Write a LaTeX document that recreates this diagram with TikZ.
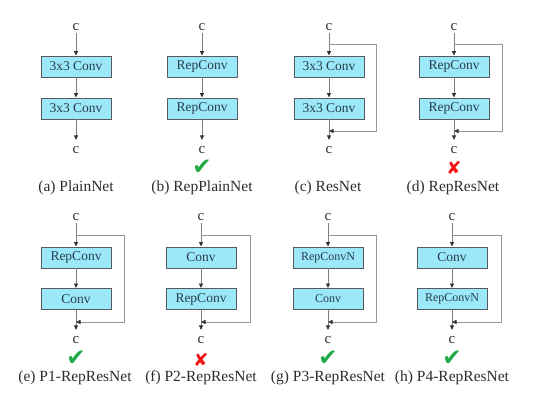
\documentclass[tikz,border=0pt]{standalone}
\usepackage{fontspec}
\setmainfont{Liberation Serif}
\newfontfamily\symfont{DejaVu Sans}
\usetikzlibrary{arrows.meta}

\definecolor{convfill}{RGB}{155,232,251}
\definecolor{convline}{RGB}{90,90,90}
\definecolor{convtext}{RGB}{40,62,74}
\definecolor{wire}{RGB}{128,128,128}
\definecolor{bypasscol}{RGB}{150,150,150}
\definecolor{tipcol}{RGB}{50,50,50}
\definecolor{labtext}{RGB}{45,45,45}
\definecolor{okgreen}{RGB}{30,170,70}
\definecolor{nored}{RGB}{240,20,20}

\begin{document}
\begin{tikzpicture}[x=1pt,y=-1pt,
	conv/.style={draw=convline,fill=convfill,line width=.9pt,minimum width=70pt,minimum height=21pt,inner sep=0pt,text=convtext,font=\fontsize{13.5}{14}\selectfont},
	convn/.style={conv,font=\fontsize{12}{13}\selectfont},
	chan/.style={inner sep=0pt,outer sep=2.5pt,text=labtext,font=\fontsize{15}{15}\selectfont},
	caption/.style={inner sep=0pt,text=labtext,font=\fontsize{15.5}{16}\selectfont},
	flow/.style={draw=wire,line width=.8pt,-{Triangle[length=4.5pt,width=4pt,color=tipcol]}},
	bypass/.style={flow,draw=bypasscol},
	tick/.style={inner sep=0pt,text=okgreen,font=\symfont\fontsize{23}{23}\selectfont},
	cross/.style={inner sep=0pt,text=nored,font=\symfont\fontsize{18}{18}\selectfont}]
	\useasboundingbox (0,0) rectangle (544,404);
	
	% (a) plain
	\node[chan] (a-in) at (76,27) {c};
	\node[conv] (a-1) at (76,66.5) {3x3 Conv};
	\node[conv] (a-2) at (76,108.5) {3x3 Conv};
	\node[chan] (a-out) at (76,150) {c};
	\draw[flow] (a-in) -- (a-1);
	\draw[flow] (a-1) -- (a-2);
	\draw[flow,shorten >=4pt] (a-2) -- (a-out);
	\node[caption] (a-cap) at (76,188) {(a) PlainNet};
	
	% (b)
	\node[chan] (b-in) at (202,27) {c};
	\node[conv] (b-1) at (202,66.5) {RepConv};
	\node[conv] (b-2) at (202,108.5) {RepConv};
	\node[chan] (b-out) at (202,150) {c};
	\draw[flow] (b-in) -- (b-1);
	\draw[flow] (b-1) -- (b-2);
	\draw[flow,shorten >=4pt] (b-2) -- (b-out);
	\node[tick] (b-mark) at (202,167) {✔};
	\node[caption] (b-cap) at (202,188) {(b) RepPlainNet};
	
	% (c) residual
	\node[chan] (c-in) at (329,27) {c};
	\node[conv] (c-1) at (329,66.5) {3x3 Conv};
	\node[conv] (c-2) at (329,108.5) {3x3 Conv};
	\node[chan] (c-out) at (329,150) {c};
	\coordinate (c-split) at (329,44);
	\coordinate (c-merge) at (329,131);
	\draw[flow] (c-in) -- (c-1);
	\draw[flow] (c-1) -- (c-2);
	\draw[flow,shorten >=4pt] (c-2) -- (c-out);
	\draw[bypass] (c-split) -- ++(47,0) |- (c-merge);
	\node[caption] (c-cap) at (328,188) {(c) ResNet};
	
	% (d)
	\node[chan] (d-in) at (454,27) {c};
	\node[conv] (d-1) at (454,66.5) {RepConv};
	\node[conv] (d-2) at (454,108.5) {RepConv};
	\node[chan] (d-out) at (454,150) {c};
	\coordinate (d-split) at (454,44);
	\coordinate (d-merge) at (454,131);
	\draw[flow] (d-in) -- (d-1);
	\draw[flow] (d-1) -- (d-2);
	\draw[flow,shorten >=4pt] (d-2) -- (d-out);
	\draw[bypass] (d-split) -- ++(48,0) |- (d-merge);
	\node[cross] (d-mark) at (454,168) {✘};
	\node[caption] (d-cap) at (453,188) {(d) RepResNet};
	
	% (e) P1
	\node[chan] (e-in) at (76,217) {c};
	\node[conv] (e-1) at (76,257.5) {RepConv};
	\node[conv] (e-2) at (76,299) {Conv};
	\node[chan] (e-out) at (76,340) {c};
	\coordinate (e-split) at (76,235);
	\coordinate (e-merge) at (76,322);
	\draw[flow] (e-in) -- (e-1);
	\draw[flow] (e-1) -- (e-2);
	\draw[flow,shorten >=4pt] (e-2) -- (e-out);
	\draw[bypass] (e-split) -- ++(48,0) |- (e-merge);
	\node[tick] (e-mark) at (76,358.5) {✔};
	\node[caption] (e-cap) at (75,378) {(e) P1-RepResNet};
	
	% (f) P2
	\node[chan] (f-in) at (201,217) {c};
	\node[conv] (f-1) at (201,257.5) {Conv};
	\node[conv] (f-2) at (201,299) {RepConv};
	\node[chan] (f-out) at (201,340) {c};
	\coordinate (f-split) at (201,235);
	\coordinate (f-merge) at (201,322);
	\draw[flow] (f-in) -- (f-1);
	\draw[flow] (f-1) -- (f-2);
	\draw[flow,shorten >=4pt] (f-2) -- (f-out);
	\draw[bypass] (f-split) -- ++(49,0) |- (f-merge);
	\node[cross] (f-mark) at (201,359.5) {✘};
	\node[caption] (f-cap) at (201,378) {(f) P2-RepResNet};
	
	% (g) P3
	\node[chan] (g-in) at (328,217) {c};
	\node[convn] (g-1) at (328,257.5) {RepConvN};
	\node[convn] (g-2) at (328,299) {Conv};
	\node[chan] (g-out) at (328,340) {c};
	\coordinate (g-split) at (328,235);
	\coordinate (g-merge) at (328,322);
	\draw[flow] (g-in) -- (g-1);
	\draw[flow] (g-1) -- (g-2);
	\draw[flow,shorten >=4pt] (g-2) -- (g-out);
	\draw[bypass] (g-split) -- ++(48,0) |- (g-merge);
	\node[tick] (g-mark) at (328,358.5) {✔};
	\node[caption] (g-cap) at (328,378) {(g) P3-RepResNet};
	
	% (h) P4
	\node[chan] (h-in) at (452,217) {c};
	\node[conv] (h-1) at (452,257.5) {Conv};
	\node[convn] (h-2) at (452,299) {RepConvN};
	\node[chan] (h-out) at (452,340) {c};
	\coordinate (h-split) at (452,235);
	\coordinate (h-merge) at (452,322);
	\draw[flow] (h-in) -- (h-1);
	\draw[flow] (h-1) -- (h-2);
	\draw[flow,shorten >=4pt] (h-2) -- (h-out);
	\draw[bypass] (h-split) -- ++(49,0) |- (h-merge);
	\node[tick] (h-mark) at (452,358.5) {✔};
	\node[caption] (h-cap) at (452,378) {(h) P4-RepResNet};
\end{tikzpicture}
\end{document}
